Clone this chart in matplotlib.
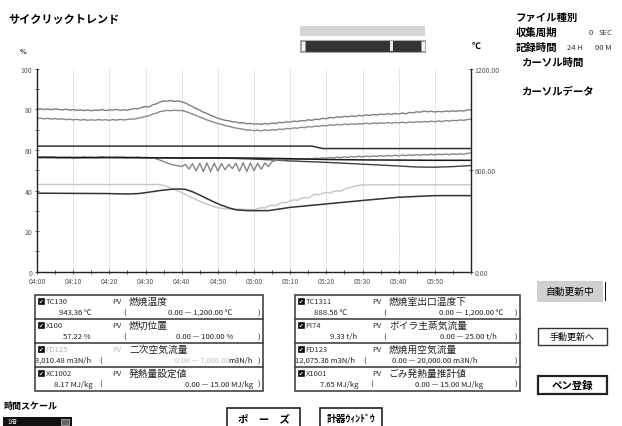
import matplotlib
matplotlib.use("Agg")
import matplotlib.pyplot as plt
from matplotlib.patches import Rectangle
from matplotlib.ticker import MultipleLocator, FixedLocator, FixedFormatter

plt.rcParams['font.family'] = ['Noto Sans CJK JP', 'DejaVu Sans']

# ---------------- data ----------------
minutes = list(range(121))   # 04:00 .. 06:00, 1-min steps

line_a = [
    80.0, 80.3, 79.9, 80.2, 79.8, 80.3, 80.0, 79.7, 80.1, 79.6,
    79.9, 79.5, 79.8, 79.4, 79.7, 79.3, 79.7, 79.5, 79.9, 79.4,
    79.8, 79.6, 80.0, 79.5, 79.8, 79.6, 80.1, 80.4, 80.3, 81.0,
    81.4, 81.2, 82.3, 82.7, 83.6, 84.2, 84.0, 84.4, 83.9, 84.2,
    83.7, 83.2, 82.2, 81.4, 80.4, 79.6, 78.6, 78.0, 77.1, 76.4,
    75.6, 75.1, 74.6, 74.4, 73.9, 73.8, 73.3, 73.4, 72.9, 73.1,
    72.7, 72.9, 72.6, 73.0, 72.8, 73.3, 73.0, 73.6, 73.4, 73.9,
    73.7, 74.2, 74.0, 74.5, 74.3, 74.9, 74.6, 75.2, 75.0, 75.6,
    75.4, 76.0, 75.8, 76.3, 76.1, 76.6, 76.3, 76.8, 76.5, 77.1,
    76.8, 77.3, 77.0, 77.5, 77.2, 77.7, 77.4, 77.9, 77.5, 78.0,
    77.7, 78.2, 77.8, 78.5, 78.3, 78.8, 78.6, 79.2, 78.8, 79.1,
    78.7, 79.0, 78.8, 79.2, 78.9, 79.3, 79.0, 79.4, 79.2, 79.7, 79.8]

line_b = [
    75.4, 75.7, 75.3, 75.6, 75.2, 75.5, 75.1, 75.4, 74.9, 75.2,
    74.8, 75.1, 74.7, 75.0, 74.6, 74.9, 74.6, 75.0, 74.7, 74.9,
    74.6, 75.0, 74.7, 75.1, 74.8, 75.0, 75.3, 75.2, 75.7, 76.0,
    76.5, 76.9, 77.7, 78.1, 78.9, 79.2, 79.5, 79.3, 79.6, 79.4,
    79.5, 79.0, 78.4, 77.7, 77.0, 76.2, 75.5, 74.8, 74.2, 73.6,
    73.0, 72.6, 72.0, 71.7, 71.2, 70.8, 70.5, 70.2, 69.8, 69.9,
    69.5, 69.8, 69.4, 69.9, 69.6, 70.0, 69.8, 70.3, 70.1, 70.6,
    70.4, 70.9, 70.7, 71.2, 71.0, 71.5, 71.3, 71.8, 71.6, 72.1,
    71.9, 72.4, 72.1, 72.6, 72.3, 72.8, 72.5, 72.9, 72.6, 73.0,
    72.8, 73.2, 72.9, 73.3, 73.0, 73.4, 73.1, 73.5, 73.2, 73.6,
    73.3, 73.7, 73.4, 73.8, 73.5, 73.9, 73.7, 74.0, 73.8, 74.2,
    73.9, 74.3, 74.0, 74.5, 74.2, 74.6, 74.4, 74.8, 74.6, 75.0, 75.1]

line_e = [
    56.4, 56.1, 56.5, 56.2, 56.6, 56.3, 56.0, 56.4, 56.2, 56.5,
    56.1, 56.4, 56.2, 56.6, 56.3, 56.5, 56.1, 56.4, 56.7, 56.3,
    56.5, 56.2, 56.6, 56.3, 56.5, 56.1, 56.4, 56.2, 56.5, 56.0,
    56.3, 55.9, 56.1, 55.6, 55.0, 54.3, 53.6, 53.0, 52.5, 52.2,
    51.8, 52.9, 50.6, 53.2, 49.7, 53.4, 49.4, 53.6, 49.3, 53.5,
    49.6, 53.3, 50.2, 52.9, 50.8, 53.5, 49.5, 53.7, 49.4, 53.6,
    49.8, 53.4, 50.5, 53.6, 51.8, 54.2, 54.8, 55.3, 55.0, 55.4,
    55.1, 55.6, 55.2, 55.7, 55.4, 55.8, 55.5, 56.0, 55.7, 56.1,
    55.9, 56.3, 56.0, 56.5, 56.2, 56.6, 56.3, 56.8, 56.5, 56.9,
    56.6, 57.0, 56.7, 57.1, 56.8, 57.2, 56.9, 57.3, 57.0, 57.4,
    57.1, 57.5, 57.2, 57.6, 57.3, 57.7, 57.4, 57.8, 57.5, 57.9,
    57.6, 57.9, 57.7, 58.0, 57.7, 58.1, 57.8, 58.1, 57.9, 58.3, 58.5]

c_min = [0, 76, 79, 120]
c_val = [61.9, 61.9, 60.7, 60.7]

d_min = [0, 10, 20, 30, 40, 50, 60, 70, 80, 90, 100, 110, 120]
d_val = [56.4, 56.2, 56.3, 56.2, 56.0, 56.1, 56.0, 55.7, 55.3, 55.1, 55.0, 54.9, 54.9]

h_min = [0, 30, 50, 55, 60, 65, 70, 80, 90, 100, 105, 110, 115, 120]
h_val = [56.3, 56.2, 56.0, 55.8, 55.5, 55.1, 54.6, 53.9, 53.0, 52.1, 51.6, 51.5, 51.8, 52.3]

f_min = [0, 34, 36, 38, 40, 42, 44, 46, 48, 50, 52, 56, 60, 61, 62, 63, 64, 65, 66,
         67, 68, 69, 70, 71, 72, 73, 74, 75, 76, 77, 78, 79, 80, 81, 82, 83, 84,
         85, 86, 87, 88, 89, 90, 120]
f_val = [43.0, 43.0, 42.0, 40.5, 39.0, 37.2, 35.5, 34.0, 32.6, 31.5, 31.0, 30.8, 30.6,
         31.0, 31.6, 31.3, 32.4, 32.8, 32.5, 33.6, 34.2, 34.0, 35.0, 35.4, 35.1, 36.2,
         36.6, 36.3, 37.4, 38.2, 37.9, 38.7, 39.1, 38.8, 39.5, 39.9, 39.7, 40.6, 41.2,
         41.6, 42.2, 42.5, 42.8, 42.8]

g_min = [0, 10, 20, 25, 28, 31, 34, 37, 39, 41, 43, 45, 47, 49, 51, 53, 55, 58, 64,
         70, 80, 90, 100, 110, 120]
g_val = [38.7, 38.6, 38.5, 38.3, 38.5, 39.2, 40.0, 40.6, 40.8, 40.6, 39.4, 37.8, 36.0,
         34.3, 32.8, 31.5, 30.5, 30.1, 30.1, 31.7, 33.4, 35.1, 36.7, 37.5, 37.5]

x_tick_labels = ['04:00', '04:10', '04:20', '04:30', '04:40', '04:50',
                 '05:00', '05:10', '05:20', '05:30', '05:40', '05:50']
left_ticks = [0, 20, 40, 60, 80, 100]
right_ticks = [0, 600, 1200]

left_ids = ['TC130', 'X100', 'FD125', 'XC1002']
left_names = ['燃焼温度', '燃切位置', '二次空気流量', '発熱量設定値']
left_vals = [943.36, 57.22, 3010.48, 8.17]
left_units = ['℃', '%', 'm3N/h', 'MJ/kg']
left_lo = [0.0, 0.0, 0.0, 0.0]
left_hi = [1200.0, 100.0, 7000.0, 15.0]

right_ids = ['TC1311', 'PI74', 'FD123', 'X1001']
right_names = ['燃焼室出口温度下', 'ボイラ主蒸気流量', '燃焼用空気流量', 'ごみ発熱量推計値']
right_vals = [888.56, 9.33, 12075.36, 7.65]
right_units = ['℃', 't/h', 'm3N/h', 'MJ/kg']
right_lo = [0.0, 0.0, 0.0, 0.0]
right_hi = [1200.0, 25.0, 20000.0, 15.0]

# ---------------- figure ----------------
W, H = 622, 427
fig = plt.figure(figsize=(W / 100, H / 100), dpi=100)
fig.patch.set_facecolor('white')

ov = fig.add_axes([0, 0, 1, 1])
ov.set_xlim(0, W)
ov.set_ylim(H, 0)
ov.axis('off')

JP = ['Noto Sans CJK JP', 'DejaVu Sans']

# title & header texts
ov.text(8, 19, 'サイクリックトレンド', fontsize=8, fontweight='bold', va='center', family=JP)
ov.text(20, 52, '%', fontsize=5, va='center', color='#333', fontweight='bold')
ov.text(472, 46, '℃', fontsize=6.5, va='center', fontweight='bold', family=JP)

ov.text(516, 18, 'ファイル種別', fontsize=7.5, fontweight='bold', va='center', family=JP)
ov.text(516, 33, '収集周期', fontsize=7.5, fontweight='bold', va='center', family=JP)
ov.text(593, 33, '0', fontsize=5.5, va='center', ha='right', color='#333')
ov.text(599, 33, 'SEC', fontsize=5.5, va='center', color='#333')
ov.text(516, 48, '記録時間', fontsize=7.5, fontweight='bold', va='center', family=JP)
ov.text(567, 48, '24 H', fontsize=5.5, va='center', color='#333')
ov.text(595, 48, '00 M', fontsize=5.5, va='center', color='#333')
ov.text(521, 63, 'カーソル時間', fontsize=7.5, fontweight='bold', va='center', family=JP)
ov.text(521, 92, 'カーソルデータ', fontsize=7.5, fontweight='bold', va='center', family=JP)

# top slider widget
ov.add_patch(Rectangle((300, 26.5), 125, 10, facecolor='#d4d4d4', edgecolor='none'))
ov.add_patch(Rectangle((300, 41), 125, 12, facecolor='#333333', edgecolor='#aaaaaa', lw=0.8))
ov.add_patch(Rectangle((300.5, 42), 4, 10, facecolor='#f4f4f4', edgecolor='#999', lw=0.5))
ov.add_patch(Rectangle((420.5, 42), 4, 10, facecolor='#f4f4f4', edgecolor='#999', lw=0.5))
ov.add_patch(Rectangle((390, 42), 3, 10, facecolor='#e8e8e8', edgecolor='none'))

FS = 5.5

# panels
def draw_panel(x0, width, ids, names, vals, units, los, his, val_end, paren_off,
               range_end, gray_row=None):
    top = 296.0
    rh = 23.9
    ov.add_patch(Rectangle((x0, top), width, rh * 4, facecolor='white',
                           edgecolor='#444', lw=1.2))
    for i in range(1, 4):
        ov.plot([x0, x0 + width], [top + i * rh, top + i * rh], color='#444', lw=1.2)
    for i in range(4):
        t = top + i * rh
        g = (gray_row == i)
        ov.add_patch(Rectangle((x0 + 2.5, t + 3), 6, 6, facecolor='#111', edgecolor='#111', lw=0.5))
        ov.text(x0 + 5.5, t + 6.2, '✔', fontsize=4, color='white', ha='center', va='center',
                family=['DejaVu Sans'])
        c1 = '#b8b8b8' if g else '#333'
        ov.text(x0 + 10.5, t + 6.5, ids[i], fontsize=FS, color=c1, va='center')
        ov.text(x0 + 77, t + 6.5, 'PV', fontsize=FS, color=c1, va='center')
        ov.text(x0 + 94, t + 6.0, names[i], fontsize=7, color='#222', va='center', family=JP)
        ov.text(x0 + val_end[i], t + 17.3, f'{vals[i]:,.2f} {units[i]}', fontsize=FS,
                color='#222', va='center', ha='right', family=JP)
        ov.text(x0 + paren_off[i], t + 17.3, '(', fontsize=FS, color='#222', va='center')
        if g:
            ov.text(x0 + range_end[i] - 23, t + 17.3, f'{los[i]:,.2f} — {his[i]:,.2f}',
                    fontsize=FS, color='#c0c0c0', va='center', ha='right', family=JP)
            ov.text(x0 + range_end[i], t + 17.3, units[i], fontsize=FS, color='#222',
                    va='center', ha='right', family=JP)
        else:
            ov.text(x0 + range_end[i], t + 17.3, f'{los[i]:,.2f} — {his[i]:,.2f} {units[i]}',
                    fontsize=FS, color='#222', va='center', ha='right', family=JP)
        ov.text(x0 + width - 5, t + 17.3, ')', fontsize=FS, color='#222', va='center')

draw_panel(35, 228, left_ids, left_names, left_vals, left_units, left_lo, left_hi,
           [57, 56, 56, 58], [88, 88, 64, 64], [197, 198, 218, 218], gray_row=2)
draw_panel(295, 225, right_ids, right_names, right_vals, right_units, right_lo, right_hi,
           [52, 62, 60, 63], [88, 88, 68, 75], [208, 202, 182, 188])

# buttons
ov.add_patch(Rectangle((537, 282), 65, 20, facecolor='#d0d0d0', edgecolor='#c8c8c8', lw=0.6))
ov.text(569.5, 292, '自動更新中', fontsize=7, ha='center', va='center', family=JP)
ov.add_patch(Rectangle((604.5, 283), 1.8, 19, facecolor='#111', edgecolor='none'))

ov.add_patch(Rectangle((538, 329), 69, 17, facecolor='white', edgecolor='#333', lw=1.0))
ov.text(572.5, 337.5, '手動更新へ', fontsize=6.5, ha='center', va='center', family=JP)

ov.add_patch(Rectangle((538, 377), 69, 18, facecolor='white', edgecolor='#222', lw=1.6))
ov.text(572.5, 386, 'ペン登録', fontsize=7.5, fontweight='bold', ha='center', va='center', family=JP)

ov.add_patch(Rectangle((227, 408.5), 73, 22, facecolor='white', edgecolor='#222', lw=1.2))
ov.text(263.5, 419, 'ポ　ー　ズ', fontsize=7.5, fontweight='bold', ha='center', va='center', family=JP)

ov.add_patch(Rectangle((320, 408.5), 62, 22, facecolor='white', edgecolor='#222', lw=1.2))
ov.text(351, 419, '計器ｳｨﾝﾄﾞｳ', fontsize=7, fontweight='bold', ha='center', va='center', family=JP)

ov.text(3, 406, '時間スケール', fontsize=6.5, fontweight='bold', va='center', family=JP)
ov.add_patch(Rectangle((3, 417.5), 69, 10, facecolor='#111', edgecolor='none'))
ov.text(7, 422.5, '1倍', fontsize=4.5, color='white', va='center', family=JP)
ov.add_patch(Rectangle((61, 419.5), 8, 6, facecolor='#666', edgecolor='#ccc', lw=0.5))

# ---------------- main chart ----------------
L, R, T, B = 37, 471, 69.8, 272.7
ax = fig.add_axes([L / W, (H - B) / H, (R - L) / W, (B - T) / H])
ax.set_facecolor('none')
ax.set_xlim(0, 120)
ax.set_ylim(0, 100)

ax.plot(minutes, line_a, color='#808080', lw=1.0)
ax.plot(minutes, line_b, color='#8a8a8a', lw=1.0)
ax.plot(c_min, c_val, color='#303030', lw=1.1)
ax.plot(f_min, f_val, color='#c4c4c4', lw=1.0)
ax.plot(h_min, h_val, color='#404040', lw=1.0)
ax.plot(minutes, line_e, color='#858585', lw=1.0)
ax.plot(d_min, d_val, color='#1a1a1a', lw=1.1)
ax.plot(g_min, g_val, color='#333333', lw=1.1)

for s in ['top', 'right']:
    ax.spines[s].set_visible(False)
ax.spines['left'].set_color('#222')
ax.spines['bottom'].set_color('#222')
ax.spines['left'].set_linewidth(1.0)
ax.spines['bottom'].set_linewidth(1.0)

ax.xaxis.set_major_locator(FixedLocator([10 * i for i in range(len(x_tick_labels))]))
ax.xaxis.set_major_formatter(FixedFormatter(x_tick_labels))
ax.xaxis.set_minor_locator(MultipleLocator(5))
ax.set_yticks(left_ticks)
ax.set_yticklabels([str(v) for v in left_ticks])
ax.yaxis.set_minor_locator(MultipleLocator(10))
ax.tick_params(axis='both', which='both', direction='inout', length=3, width=0.6,
               colors='#444', labelsize=4.9, labelcolor='#555', pad=2)
ax.grid(axis='x', which='major', linestyle=(0, (1, 1.5)), color='#b0b0b0', lw=0.6)
ax.set_axisbelow(True)

ax2 = ax.twinx()
ax2.set_ylim(0, 1200)
ax2.set_yticks(right_ticks)
ax2.set_yticklabels([f'{v:.2f}' for v in right_ticks])
for s in ['top', 'left', 'bottom']:
    ax2.spines[s].set_visible(False)
ax2.spines['right'].set_color('#222')
ax2.spines['right'].set_linewidth(1.0)
ax2.tick_params(axis='y', direction='inout', length=3, width=0.6, colors='#444',
                labelsize=4.9, labelcolor='#555', pad=1)

fig.savefig('out.png', dpi=100, facecolor='white')
